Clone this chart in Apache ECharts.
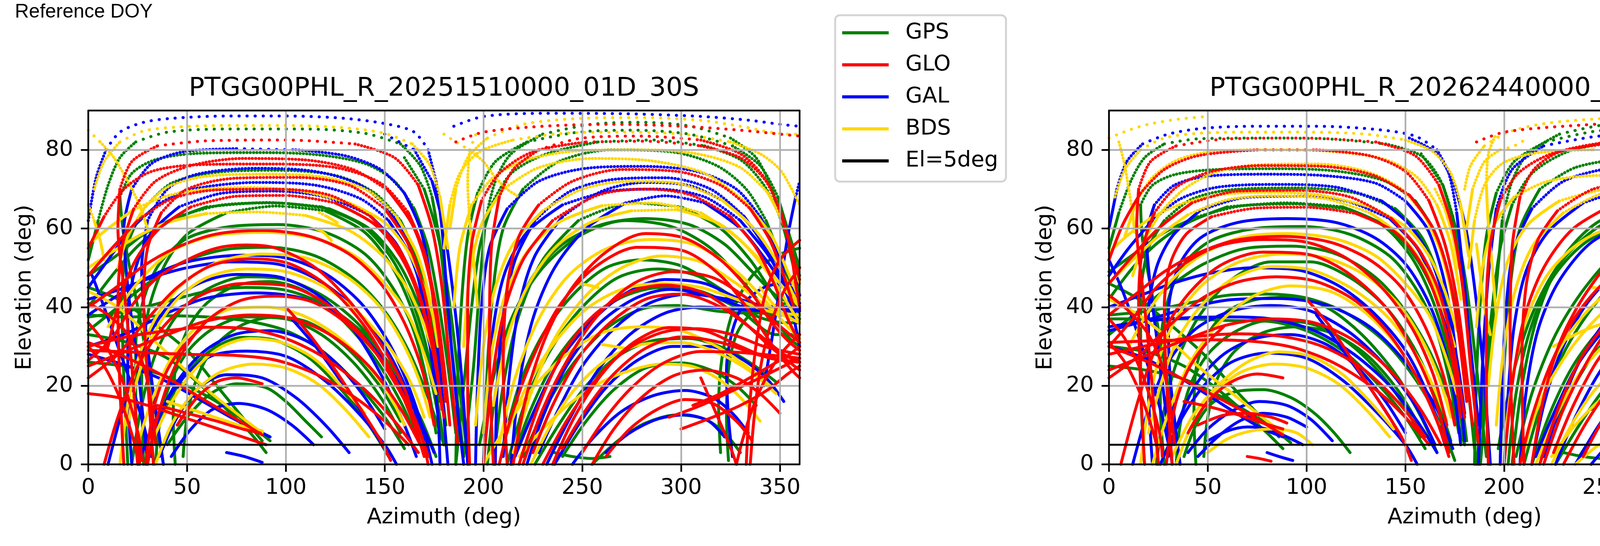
<!DOCTYPE html>
<html>
<head>
<meta charset="utf-8">
<script src="https://cdn.jsdelivr.net/npm/echarts@6/dist/echarts.min.js"></script>
<style>
html,body{margin:0;padding:0;background:#ffffff;}
#chart{width:5228px;height:1398px;}
</style>
</head>
<body>
<div id="chart"></div>
<script>
// ---------------- tick labels / titles ----------------
const xTicks = [0, 50, 100, 150, 200, 250, 300, 350];
const yTicks = [0, 20, 40, 60, 80];
const panelTitles = ['PTGG00PHL_R_20251510000_01D_30S', 'PTGG00PHL_R_20262440000_01D_30S'];
const systemNames = ['GPS', 'GLO', 'GAL', 'BDS'];
const maskName = 'El=5deg';
const maskElevation = 5;

// ---------------- left panel (DOY 2025-151): tracks of [azimuth, elevation] ----------------
const gpsLeft = [
 [[0,52],[5,62],[10,71],[16,78],[24,82],[40,84.5],[70,85.3],[110,85.3],[140,84.2],[158,81.5],[168,76],[174,68],[178,56],[182,38],[186,20],[190,2]],
 [[38,0],[32,20],[25,40],[18,58],[16,68],[22,74],[34,77.5],[55,79.1],[85,79.3],[115,78.8],[140,76.5],[155,72],[165,65],[172,55],[177,42],[182,25],[186,8]],
 [[20,0],[18,22],[17,42],[20,56],[28,65],[42,71.5],[65,74.3],[95,74.8],[125,73.5],[145,69],[158,62],[166,53],[172,42],[177,26],[181,10]],
 [[0,40],[12,48],[25,55.5],[40,61.5],[60,65.5],[90,66.6],[118,65.5],[138,61],[152,53.5],[162,44],[170,32],[176,18],[180,5]],
 [[28,0],[27,20],[30,38],[38,50],[50,58.5],[70,64],[95,65.7],[120,64.5],[140,59],[154,50],[164,39],[172,25],[178,10]],
 [[0,34],[15,40],[30,46],[48,51.5],[70,54.7],[92,55.2],[115,53],[135,47],[150,39],[162,29],[172,17],[180,5]],
 [[22,0],[27,15],[34,28],[45,38],[60,44.5],[80,47.7],[100,47],[120,42.5],[138,35],[152,25],[163,14],[170,5]],
 [[0,37.5],[20,39],[40,41.5],[60,44],[80,45],[100,44.3],[120,40.5],[140,33],[156,23],[168,12],[176,2]],
 [[0,38],[20,37.5],[40,37.8],[60,37.5],[80,36.5],[100,34],[118,29],[135,21],[150,12],[160,4]],
 [[30,2],[38,13],[48,22],[62,29],[78,32.3],[95,31.5],[112,27],[128,19],[142,10],[152,2]],
 [[40,5],[50,12],[62,18],[75,20.5],[90,19.5],[100,16],[110,11],[118,7]],
 [[0,45],[15,42],[30,37],[50,29],[65,20],[78,12],[88,6]],
 [[0,33],[20,31],[40,27],[55,21],[70,14],[82,8],[90,3]],
 [[44,0],[43,12],[44,24],[50,34],[60,41],[75,45.5],[92,46.5],[110,44],[128,37],[145,27],[158,16],[167,6]],
 [[48,2],[50,12],[55,22],[64,30],[78,35.5],[95,37.5],[112,36],[130,30],[146,21],[158,11]],
 [[26,0],[24,15],[24,30],[28,42],[36,51],[50,57.5],[72,60.5],[96,61],[120,59],[140,53.5],[154,45],[164,35],[171,22],[176,8]],
 [[0,48],[14,53],[28,58.5],[45,63],[68,66],[95,66.5],[122,65],[142,60],[156,52],[166,42],[173,30],[178,16]],
 [[34,0],[36,10],[41,20],[50,28.5],[63,34.5],[80,37.5],[100,37],[118,33],[134,26],[148,17],[158,8]],
 [[0,26],[18,25],[36,23],[52,19.5],[68,15],[82,10],[92,6]],
 [[160,78],[170,70],[177,58],[182,44],[186,28],[190,10],[192,2]],
 [[190,2],[195,25],[198,45],[201,62],[206,72],[214,79],[230,84],[255,86.5],[280,87],[305,86],[325,83],[338,78],[346,70],[352,60],[357,50],[360,43]],
 [[200,0],[202,25],[205,45],[210,60],[220,70],[238,77],[265,80],[295,79.5],[318,76],[333,70],[343,62],[350,53],[356,44],[360,38]],
 [[205,0],[210,20],[218,38],[230,52],[248,62],[275,66.5],[300,65.5],[320,60],[335,52],[347,43],[355,38],[360,37]],
 [[198,5],[205,22],[215,38],[230,50],[250,58.5],[272,62],[295,60.5],[315,55],[332,46],[345,38],[355,32],[360,30]],
 [[210,5],[218,20],[230,33],[245,43],[262,50],[280,52],[300,50.5],[318,45],[333,38],[348,33],[360,33]],
 [[212,0],[222,17],[235,30],[250,40],[268,47.5],[288,49.7],[308,48],[325,43],[338,39],[350,38],[360,38]],
 [[220,2],[232,15],[246,26],[262,34.5],[280,39.5],[298,40.4],[318,39],[335,38.5],[350,38.5],[360,38]],
 [[240,2],[252,11],[266,19],[282,24.5],[300,25.8],[315,24],[328,20],[338,15]],
 [[255,0],[268,6],[282,10.5],[298,12.6],[312,11.5],[322,8],[330,3]],
 [[324,1],[323,12],[324,24],[328,33],[335,38],[345,40],[355,41],[360,41]],
 [[320,3],[319,15],[321,28],[327,40],[336,48],[348,53],[360,55]],
 [[236,3],[245,2],[255,1.5],[264,2]],
 [[214,0],[224,14],[236,26],[252,36],[270,42.5],[290,45],[310,44],[328,40],[342,37],[354,36],[360,36]],
 [[226,0],[238,10],[252,20],[268,27.5],[286,31.5],[304,32],[322,29.5],[336,25.5],[348,21]],
 [[202,0],[206,18],[213,34],[224,47],[240,56],[260,61],[282,62.5],[304,61],[322,56],[336,49],[348,43],[360,40]],
 [[186,0],[190,20],[194,40],[198,55],[204,66],[214,74],[232,79],[258,82],[286,82.5],[312,81],[330,77.5],[342,71],[350,63],[356,54],[360,48]],
 [[186,0],[187,22],[189,42],[192,58],[197,69],[206,77],[222,82],[248,84.5],[276,85],[304,84],[326,81],[340,76],[349,68],[355,58],[360,50]]
];
const gloLeft = [
 [[26,0],[22,25],[18,45],[15,60],[16,70],[22,77],[35,81],[60,82.3],[100,82.5],[135,81.5],[155,78],[167,71],[174,60],[179,45],[183,25],[187,5]],
 [[0,55],[8,63],[18,70],[32,74.5],[55,76.2],[90,76.4],[125,75.5],[148,71.5],[162,64],[170,54],[176,40],[180,25],[183,10]],
 [[33,0],[30,22],[28,42],[30,55],[37,64],[50,70],[75,72.8],[105,73],[132,71],[150,65],[162,56],[170,44],[175,30],[179,14]],
 [[0,48],[12,55],[25,62],[42,67.5],[65,69.8],[95,70],[122,68.5],[143,63],[157,55],[167,44],[174,30],[180,12]],
 [[10,30],[16,42],[24,52],[36,60],[52,65.5],[75,68.2],[100,68.4],[125,66.5],[145,61],[158,53],[167,43],[174,30],[178,18]],
 [[0,26.5],[12,32],[23,41],[35,47.5],[50,52],[65,55],[80,55.8],[95,55],[115,50],[133,41],[150,29],[161,18],[167,6]],
 [[0,22],[15,28],[30,37],[45,45],[62,50.5],[82,52.3],[102,51],[122,45],[140,35],[155,22],[165,10],[170,2]],
 [[8,0],[15,12],[25,25],[38,35],[55,42.5],[78,46],[100,45.5],[120,41],[140,32],[156,20],[168,8],[172,0]],
 [[30,0],[35,12],[44,25],[58,35.5],[76,41.5],[95,42.8],[115,41],[135,34],[152,24],[165,12],[172,2]],
 [[0,30],[20,32.5],[40,34],[60,34.9],[80,34.5],[100,32],[120,27],[140,19],[155,11],[167,3]],
 [[0,29],[25,28.5],[50,28],[75,27.7],[95,26.5],[115,23],[135,17],[150,11],[162,5]],
 [[45,10],[55,17],[65,21],[75,22],[88,20.5]],
 [[0,31],[20,27],[40,22],[55,17.5],[70,13],[80,10],[88,7.5]],
 [[35,15],[50,13],[65,11],[78,9],[87,8]],
 [[0,18],[15,17],[30,15],[45,12.5],[60,10],[75,7.5],[90,5]],
 [[0,30],[8,25],[15,18],[20,11],[24,4],[25,0]],
 [[0,36],[8,31],[16,23],[22,14],[26,6],[27,1]],
 [[29,0],[31,8],[34,16],[40,24],[48,30],[58,35]],
 [[100,40],[112,33],[125,24],[138,14],[148,6],[153,1]],
 [[0,41],[10,38],[20,33],[28,25],[32,15],[34,5]],
 [[18,0],[16,20],[15,40],[17,55],[23,65],[34,72],[52,76],[78,77.8],[108,77.5],[134,75],[152,69.5],[164,61],[172,49],[177,34],[181,16]],
 [[0,40],[14,45],[28,50.5],[44,55],[64,58.5],[88,59.5],[112,58],[132,53.5],[148,46],[160,36],[169,24],[175,10]],
 [[0,25],[20,29],[40,33],[60,36.5],[82,38],[104,37],[124,32.5],[142,25],[157,15],[168,5]],
 [[205,0],[203,30],[204,55],[208,68],[215,75],[228,80],[250,83],[280,83.5],[310,82.5],[330,79],[342,73],[350,65],[355,56],[358,46],[360,40]],
 [[212,0],[210,25],[212,45],[218,58],[228,66],[245,72],[270,75],[298,74.5],[320,71],[335,65],[345,57],[352,48],[357,40]],
 [[200,0],[204,20],[210,38],[220,52],[235,62],[258,68.5],[282,70],[305,68.5],[325,63],[338,55],[347,46],[354,37],[360,31]],
 [[215,0],[222,18],[232,33],[245,45],[262,54],[282,58.7],[302,57.5],[320,52],[335,44],[346,36],[355,31],[360,29]],
 [[208,0],[214,12],[224,26],[238,40],[256,50],[278,55.2],[300,54.5],[320,48],[336,38],[348,29],[356,24],[360,22]],
 [[218,0],[228,15],[240,28],[256,38],[275,44],[292,45.6],[312,43.5],[330,37],[345,30],[360,24]],
 [[225,3],[235,15],[248,27],[264,36],[282,42],[300,43.3],[320,40],[337,34],[352,28],[360,26]],
 [[235,0],[246,12],[260,23],[276,31],[294,34.8],[312,34],[330,30],[345,27],[360,26]],
 [[240,4],[252,14],[266,23],[282,29.5],[300,32.4],[320,31],[338,28],[352,26.5],[360,26]],
 [[250,3],[262,12],[276,20],[292,26],[310,28.7],[328,28.5],[345,27.8],[360,27]],
 [[255,0],[266,9],[280,17],[296,22.5],[312,24],[328,22],[340,18],[350,13]],
 [[262,2],[274,9],[288,14],[302,16.5],[316,15.5],[328,11],[336,6]],
 [[294,12],[310,15],[325,18.5],[340,22],[352,25],[360,27]],
 [[306,15],[320,18],[333,21.5],[345,25],[355,28],[360,30]],
 [[333,0],[334,10],[336,22],[339,34],[343,44],[350,52],[360,57]],
 [[335,0],[337,12],[340,24],[345,35],[352,44],[360,50]],
 [[310,22],[316,15],[322,8],[326,3],[328,0]],
 [[328,0],[331,6],[336,14],[343,22],[352,29],[360,33]],
 [[186,82],[200,84.5],[230,86],[265,86.5],[300,86],[330,85],[350,84],[360,83.5]],
 [[220,0],[230,14],[243,27],[258,38],[276,46],[296,49],[316,47.5],[334,42],[348,36],[360,31]],
 [[230,0],[242,11],[256,21],[272,29],[290,33.5],[308,34.5],[326,33],[342,30],[360,28]],
 [[300,9],[316,12],[330,15],[344,19],[354,23],[360,25]],
 [[193,0],[192,20],[192,40],[194,56],[199,67],[208,74],[225,79.5],[252,82],[282,82.2],[310,81],[330,78],[343,72],[351,63],[356,54],[360,47]]
];
const galLeft = [
 [[0,62],[4,73],[9,80],[16,84.5],[28,87],[42,88],[70,88.6],[100,88.6],[130,88],[152,86.5],[165,84.5],[172,80],[176,72],[179,60],[182,40],[186,18],[190,0]],
 [[30,0],[25,25],[20,45],[18,60],[22,70],[32,76.5],[48,79.5],[75,80.3],[105,80],[130,78.5],[148,75],[160,69],[168,60],[173,48],[177,30],[180,12],[182,0]],
 [[38,0],[30,30],[27,50],[30,62],[40,70],[55,73.8],[85,75.3],[115,74.5],[138,71],[152,65],[162,56],[168,45],[173,30],[177,12],[178,0]],
 [[0,45],[10,52],[22,60],[35,66],[50,69.7],[85,71.7],[115,71],[138,67.5],[152,62],[163,53],[170,42],[176,28],[180,14]],
 [[0,38],[15,43],[30,47.5],[50,51.5],[78,53.2],[100,52.5],[120,48.5],[138,41],[152,31],[162,20],[170,8],[174,0]],
 [[10,0],[18,15],[28,30],[40,40],[55,45.8],[75,48.3],[95,47.8],[115,43.5],[133,35],[148,23],[160,10],[166,2]],
 [[0,30],[20,33.5],[40,38.5],[60,42.3],[85,43.6],[110,42],[132,36],[150,26],[165,14],[175,3]],
 [[25,0],[35,12],[48,22],[62,27.5],[80,28.8],[100,27.5],[118,22],[135,14],[150,5],[156,0]],
 [[36,2],[45,12],[56,19.5],[70,22.8],[88,22],[105,17],[120,10],[132,3]],
 [[42,2],[52,9],[63,14],[76,15.5],[90,14],[103,10],[114,5]],
 [[70,3],[79,2],[88,0.5]],
 [[0,28],[20,25],[40,21],[58,16],[72,12],[84,9],[92,7]],
 [[103,37],[115,30],[128,21],[140,12],[150,4]],
 [[2,48],[8,40],[15,30],[22,20],[28,10],[32,2]],
 [[22,0],[20,20],[20,38],[24,50],[32,59],[46,65.5],[68,69],[94,69.5],[120,68],[142,63.5],[156,56],[165,46],[172,33],[177,18]],
 [[0,42],[16,44.5],[32,47.5],[50,50],[72,51.5],[95,51],[116,47],[134,40],[150,30],[162,18],[170,6]],
 [[30,2],[36,12],[45,21],[58,28.5],[74,33],[92,34],[110,31.5],[126,25.5],[140,17],[150,9]],
 [[150,84],[165,80],[174,72],[180,60],[185,42],[189,22],[192,0]],
 [[196,0],[197,20],[199,40],[203,55],[212,65],[228,72],[252,75.3],[280,75.8],[308,74.5],[328,70],[340,63],[348,55],[354,45],[358,35],[360,30]],
 [[206,0],[207,20],[210,38],[216,52],[226,62],[244,69.5],[268,72.6],[292,72.9],[315,70],[332,63],[344,54],[352,45],[358,38],[360,36]],
 [[210,2],[213,22],[218,40],[226,53],[240,63],[260,69.5],[282,71.7],[305,70.8],[325,66],[340,58],[350,50],[356,44],[360,41]],
 [[214,0],[218,20],[225,37],[236,50],[252,60],[272,66.5],[292,68.3],[312,66.5],[330,60],[343,52],[352,46],[360,43]],
 [[222,0],[230,12],[242,25],[258,35.5],[276,42],[294,44.5],[314,43],[332,40],[346,39.5],[360,40]],
 [[228,3],[238,14],[250,25],[266,34.5],[284,41],[304,43.3],[324,42],[340,40.5],[352,40],[360,40]],
 [[232,0],[244,12],[258,24],[274,33],[292,38.5],[310,40],[328,39.5],[344,39],[360,39]],
 [[245,0],[256,7],[270,13.5],[286,17.5],[302,18.8],[316,17],[326,13],[334,8]],
 [[262,3],[274,8],[288,11.5],[302,12.6],[314,11],[322,7]],
 [[326,2],[324,12],[323,24],[326,34],[332,41],[342,45],[352,46],[360,46]],
 [[342,20],[346,32],[350,45],[354,58],[358,68],[360,72]],
 [[185,86],[200,88.5],[230,89.3],[270,89.2],[310,88.5],[335,87.5],[350,86.5],[360,86]],
 [[200,0],[202,18],[205,35],[211,49],[222,59],[240,66],[264,69.5],[288,70],[312,68],[330,62],[343,54],[352,47],[360,43]],
 [[236,0],[248,10],[262,19.5],[278,26.5],[296,30],[314,30],[330,27],[343,22],[352,16]],
 [[216,2],[226,14],[238,26],[254,36],[272,43.5],[292,47],[312,46],[330,42],[345,40],[360,39.5]]
];
const bdsLeft = [
 [[0,85],[6,82],[13,78],[20,72],[26,66],[30,60]],
 [[3,70],[8,77],[16,82],[28,84.8],[45,85.8],[70,86.2],[100,86.2],[130,85.6],[150,84.2],[164,81.5],[173,76],[178,68],[182,55]],
 [[15,50],[20,58],[28,65],[40,70.5],[60,73.3],[90,73.8],[120,73],[142,69.5],[156,63],[166,54],[172,44],[177,30]],
 [[0,50],[12,54],[25,58],[40,61.5],[60,63.8],[85,64.2],[110,63.3],[132,59.5],[148,53.5],[160,46],[168,38],[175,28]],
 [[10,35],[20,43],[32,50],[45,55],[65,58.3],[90,59],[115,57.5],[135,53],[150,46],[162,38],[170,28],[176,18]],
 [[20,10],[25,22],[33,33],[45,42],[60,47.5],[80,49.7],[100,49],[120,45],[138,38],[152,30],[163,21],[170,12]],
 [[25,5],[32,16],[42,27],[55,35],[72,39.5],[90,40],[108,38],[125,33],[140,26],[152,18],[160,10]],
 [[30,3],[40,14],[52,23],[66,29.5],[82,32],[98,31],[114,27],[128,20],[140,13]],
 [[0,44],[15,40],[30,33],[45,26],[60,19],[75,13],[88,8]],
 [[40,16],[52,14],[64,12],[76,10],[88,8.5]],
 [[0,66],[3,62],[6,57],[8,52]],
 [[115,60],[119,59],[123,57]],
 [[117,64],[121,63],[126,61.5]],
 [[0,56],[10,60],[22,64.5],[38,68],[58,70],[82,70.4],[108,69.5],[132,66.5],[150,61.5],[162,54],[170,45],[176,35]],
 [[16,0],[20,15],[26,28],[35,38],[48,46],[66,51.5],[88,53.5],[110,52.5],[130,48],[146,41],[158,32],[167,22],[173,12]],
 [[34,0],[42,10],[53,18],[67,23.5],[84,25.5],[100,24.5],[116,20.5],[130,14],[142,7]],
 [[183,60],[186,70],[192,78],[202,83],[220,86.5],[250,88],[280,88.2],[310,87.5],[330,86],[345,84.5],[355,84],[360,84]],
 [[180,55],[183,66],[188,74],[198,79.5],[215,82.5],[240,84.2],[270,84.5],[300,84],[325,82],[340,79],[350,75],[356,70],[360,66]],
 [[185,40],[188,55],[194,66],[205,73],[222,77.5],[250,79.8],[280,80],[308,79],[330,75.5],[344,69],[352,61],[357,52],[360,46]],
 [[190,30],[193,48],[199,61],[210,70],[228,75.5],[255,77.8],[285,77.2],[312,74],[332,67],[346,58],[354,49],[360,42]],
 [[200,8],[204,28],[211,43],[222,54],[238,61.5],[260,65.8],[285,66.5],[310,64],[330,57],[345,48],[355,40],[360,36]],
 [[205,15],[212,32],[222,45],[236,55],[254,61.5],[275,64.5],[298,64.8],[320,61],[338,53],[350,46],[360,40]],
 [[208,5],[216,22],[228,37],[243,48],[262,54.8],[284,57.2],[306,56],[326,50],[342,42],[354,35],[360,32]],
 [[215,3],[224,18],[236,32],[252,43],[270,50],[290,53],[310,51.5],[328,46],[344,40],[360,36]],
 [[218,2],[230,9],[245,16],[260,21],[275,24],[290,25.5],[305,25],[318,22],[330,17],[340,11]],
 [[200,0],[212,10],[226,20],[242,28],[260,33.5],[280,35],[300,34],[318,30],[333,25],[345,20]],
 [[248,46],[253,45.6],[258,45]],
 [[260,30.5],[266,30],[272,29.5]],
 [[180,84],[186,82],[193,80],[200,77],[206,73],[212,70],[218,68]],
 [[340,45],[348,40],[356,37],[360,36]],
 [[196,10],[200,30],[206,45],[215,56],[230,64.5],[250,70],[274,72],[298,71.5],[320,67.5],[336,60.5],[348,52],[356,44],[360,40]],
 [[224,0],[234,10],[246,19],[262,26.5],[280,30.5],[300,31],[318,28.5],[334,24],[348,18]],
 [[212,8],[222,20],[236,31],[252,39.5],[270,44.5],[290,46],[310,45],[328,42],[344,39],[360,38]],
 [[197,40],[195,52],[193,62],[192,72],[193,80],[197,85]]
];

// ---------------- right panel (DOY 2026-244) ----------------
const gpsRight = [
 [[0,55],[5,64],[11,72],[18,78],[28,81.5],[45,82.8],[75,83],[110,82.8],[140,81.5],[158,78.5],[168,72],[174,63],[178,50],[182,32],[186,12]],
 [[36,0],[30,20],[23,40],[17,57],[16,66],[22,71],[34,73.8],[55,75],[85,75.2],[115,74.6],[140,72],[155,67],[165,59],[172,48],[177,35],[182,18],[185,4]],
 [[18,0],[16,22],[16,42],[20,55],[28,62],[42,67.5],[65,70],[95,70.3],[125,69],[145,65],[158,58],[166,49],[172,38],[177,22],[181,6]],
 [[0,42],[12,50],[25,56.5],[40,61.5],[60,65.5],[90,66.5],[118,65.5],[138,61],[152,53.5],[162,44],[170,32],[176,18],[180,5]],
 [[0,33],[15,39],[30,45],[48,51],[70,55],[92,55.5],[115,53.5],[135,47.5],[150,39],[162,29],[172,17],[180,5]],
 [[24,0],[28,14],[35,27],[46,38],[62,47],[82,51.5],[102,51.5],[122,47.5],[140,40],[154,30],[165,18],[173,6]],
 [[0,38],[20,39],[40,41],[60,43],[80,43.3],[100,42.3],[120,38.5],[140,31],[156,21],[168,10],[175,1]],
 [[0,37],[20,37],[40,37],[60,36.6],[80,36.4],[100,34],[118,29],[135,21],[150,12],[160,4]],
 [[44,0],[43,12],[44,24],[50,33],[60,39],[75,42],[92,42.5],[110,40],[128,33],[145,23],[158,12],[166,3]],
 [[38,2],[44,10],[52,15.5],[64,18.5],[78,19],[92,17],[104,13],[114,8],[122,3]],
 [[0,46],[15,42],[30,36],[48,28],[62,20],[75,13],[86,7]],
 [[0,30],[20,28.5],[38,25],[54,19.5],[68,13.5],[80,8],[88,4]],
 [[48,2],[50,12],[55,22],[64,29],[78,33.5],[95,35],[112,33.5],[130,28],[146,19],[158,9]],
 [[28,0],[26,15],[26,30],[30,42],[38,51],[52,57],[74,60],[98,60.5],[122,58.5],[142,53],[155,45],[165,35],[172,22],[177,8]],
 [[0,49],[14,54],[28,59],[45,63],[68,65.8],[95,66.2],[122,64.8],[142,60],[156,52],[166,42],[173,30],[178,16]],
 [[34,0],[36,10],[41,20],[50,28],[63,33.5],[80,36.5],[100,36],[118,32],[134,25],[148,16],[158,7]],
 [[0,25],[18,24],[36,22],[52,18.5],[68,14],[82,9.5],[92,5.5]],
 [[158,79],[169,71],[176,59],[181,45],[185,29],[189,11],[191,2]],
 [[188,0],[192,25],[196,45],[199,62],[204,72],[212,79],[228,84],[252,86.5],[278,87.2],[302,86.5],[322,84],[336,79],[345,71],[351,62],[356,52],[360,45]],
 [[198,0],[200,25],[203,45],[208,60],[218,70],[236,75.5],[262,77.6],[290,77.8],[315,75],[331,69],[342,61],[350,52],[356,44],[360,39]],
 [[204,0],[209,20],[217,38],[229,52],[247,61.5],[273,66.3],[298,66.5],[318,62],[334,54],[346,45],[355,39],[360,37]],
 [[197,4],[204,22],[214,38],[228,51],[248,60.5],[272,64.8],[295,64],[316,58],[332,49],[345,40],[355,34],[360,31]],
 [[206,2],[214,18],[226,33],[241,45],[258,54],[278,57],[300,56],[318,51],[333,43],[347,36],[360,34]],
 [[210,0],[220,17],[233,31],[248,42],[266,50.5],[286,55],[306,53.5],[324,47],[338,41],[350,39],[360,38.5]],
 [[218,2],[230,15],[244,27],[260,36],[278,42],[296,44.5],[316,43],[334,40.5],[350,39.5],[360,39]],
 [[238,2],[250,11],[264,19.5],[280,25],[298,26.5],[314,25],[327,21],[338,16]],
 [[252,0],[266,6],[280,10.5],[296,12.5],[310,11.5],[320,8],[328,3]],
 [[324,1],[323,12],[324,24],[328,33],[335,38],[345,40.5],[355,41],[360,41]],
 [[320,3],[319,15],[321,28],[327,40],[336,48],[348,53],[360,55]],
 [[244,14],[258,20],[274,24],[290,25.5],[304,24],[318,20]],
 [[230,3],[240,2],[250,1.5],[258,2]],
 [[214,0],[224,14],[236,26],[252,36],[270,42],[290,44.5],[310,43.5],[328,40],[342,37.5],[354,36.5],[360,36]],
 [[226,0],[238,10],[252,20],[268,27],[286,31],[304,31.5],[322,29],[336,25],[348,20.5]],
 [[202,0],[206,18],[213,34],[224,47],[240,56],[260,61],[282,62],[304,60.5],[322,55.5],[336,48.5],[348,43],[360,40]],
 [[186,0],[190,20],[194,40],[198,55],[204,66],[214,74],[232,79.5],[258,82.5],[286,83],[312,81.5],[330,78],[342,71],[350,63],[356,54],[360,48]],
 [[185,0],[186,22],[188,42],[191,58],[196,69],[205,77],[221,82],[247,84.8],[275,85.3],[303,84.5],[325,81.5],[339,76.5],[348,68],[354,58],[360,49]]
];
const gloRight = [
 [[25,0],[21,25],[17,45],[14,60],[15,70],[21,77],[34,81],[60,82.8],[100,83],[135,82],[155,78.5],[167,71],[174,60],[179,45],[183,25],[187,5]],
 [[0,52],[7,61],[16,69],[28,75],[45,78.5],[75,80],[105,80],[132,78.5],[150,74.5],[162,67],[170,56],[176,42],[180,27],[184,10]],
 [[0,46],[12,53],[25,60],[42,66.5],[65,69.5],[95,69.7],[122,68],[143,62.5],[157,54.5],[167,44],[174,30],[180,12]],
 [[32,0],[29,22],[28,40],[31,51],[39,58.5],[52,63],[75,65.2],[100,65.4],[125,63.8],[145,59],[158,51],[167,40],[174,26],[178,12]],
 [[0,30],[12,37],[24,45],[38,51],[55,55.5],[78,57.2],[100,56.5],[120,52.5],[138,45],[153,35],[164,23],[171,10]],
 [[6,0],[14,15],[24,30],[38,42],[56,50.5],[78,54],[100,53.5],[120,49],[140,40],[155,28],[166,15],[172,3]],
 [[0,22],[16,28],[32,36],[48,42.5],[66,46.5],[85,47.7],[105,46.5],[125,41.5],[142,33],[156,22],[166,11],[172,2]],
 [[0,28],[22,30.5],[44,32.5],[66,33.2],[88,32.5],[108,30],[128,24.5],[146,16],[160,7]],
 [[0,31],[25,31.5],[50,31.7],[75,31.2],[95,29.5],[115,25.5],[135,19],[150,12],[162,5]],
 [[40,8],[50,16],[62,21],[75,23],[88,22]],
 [[0,30],[20,26],[40,21],[55,17],[70,13],[80,10],[88,7.5]],
 [[38,16],[52,14.5],[66,12.5],[78,10.5],[88,9]],
 [[45,10],[58,12.5],[70,13],[82,12],[90,10.5]],
 [[0,31],[8,26],[15,19],[20,12],[24,5],[25,0]],
 [[0,37],[8,32],[16,24],[22,15],[26,7],[27,2]],
 [[29,0],[31,8],[34,16],[40,24],[48,30],[58,35]],
 [[100,42],[112,35],[125,25],[138,15],[148,7],[153,1]],
 [[0,43],[10,39],[20,33],[27,25],[31,15],[33,5]],
 [[70,2],[76,1.5],[82,0.8]],
 [[18,0],[16,20],[15,40],[17,55],[23,64],[34,70.5],[52,74.5],[78,76],[108,75.8],[134,73.5],[152,68.5],[164,60],[172,48],[177,33],[181,16]],
 [[0,38],[14,43.5],[28,49],[44,53.5],[64,57],[88,58],[112,56.5],[132,52],[148,45],[160,35],[169,23],[175,10]],
 [[0,24],[20,28],[40,32],[60,35.5],[82,37],[104,36],[124,31.5],[142,24],[157,14.5],[168,5]],
 [[205,0],[203,30],[204,55],[208,68],[215,75],[228,79.5],[250,81.8],[280,82.2],[310,81.5],[330,78.5],[342,73],[350,65],[355,56],[358,46],[360,40]],
 [[210,0],[209,25],[211,45],[217,57],[227,64.5],[245,70],[270,72],[298,71.5],[320,68],[335,62],[345,54],[352,46],[357,38]],
 [[200,0],[204,20],[210,37],[220,50],[235,60],[258,66.8],[282,68.3],[305,67],[325,61.5],[338,54],[347,45],[354,36],[360,30]],
 [[214,0],[220,17],[229,32],[242,44],[260,55],[282,61],[302,60.5],[320,55],[335,47],[346,38],[355,32],[360,30]],
 [[208,0],[214,12],[224,26],[238,39],[256,48.5],[278,52.6],[300,52],[320,46],[336,37],[348,29],[356,24],[360,22]],
 [[218,0],[228,15],[240,28],[256,38],[275,44.3],[292,45.7],[312,43.5],[330,37],[345,30],[360,24]],
 [[225,3],[235,15],[248,27],[264,36],[282,42],[300,43.3],[320,40],[337,34],[352,28],[360,26]],
 [[240,2],[252,13],[266,22],[282,28.5],[300,31.2],[320,30.5],[338,28],[352,26.5],[360,26]],
 [[252,0],[264,9],[278,17],[294,22.5],[310,24],[326,22.5],[338,18.5],[348,13]],
 [[262,2],[274,9],[288,14],[302,16.5],[316,15.5],[328,11],[336,6]],
 [[296,13],[312,16],[326,19],[340,22.5],[352,25.5],[360,27.5]],
 [[308,16],[322,19],[334,22],[346,25.5],[355,28.5],[360,30.5]],
 [[285,31],[300,30],[315,28.5],[330,27.5],[345,27],[360,26.5]],
 [[333,0],[334,10],[336,22],[339,34],[343,44],[350,52],[360,57]],
 [[335,0],[337,12],[340,24],[345,35],[352,44],[360,50]],
 [[310,22],[316,15],[322,8],[326,3],[328,0]],
 [[328,0],[331,6],[336,14],[343,22],[352,29],[360,33]],
 [[250,1],[255,2.5],[262,4]],
 [[186,82],[200,84.5],[230,86],[265,86.8],[300,86.3],[330,85.2],[350,84],[360,83.5]],
 [[220,0],[230,14],[243,27],[258,38],[276,46],[296,49.2],[316,47.5],[334,42],[348,36],[360,31]],
 [[230,0],[242,11],[256,21],[272,29],[290,33.5],[308,34.5],[326,33],[342,30],[360,28]],
 [[300,9],[316,12],[330,15],[344,19],[354,23],[360,25]],
 [[192,0],[191,20],[191,40],[193,56],[198,67],[207,74],[224,79],[251,81.5],[281,81.8],[309,80.6],[329,77.6],[342,71.5],[350,63],[356,54],[360,47]]
];
const galRight = [
 [[0,60],[4,70],[9,77],[17,81.5],[30,84],[48,85.5],[75,86],[105,86],[135,85.2],[155,83.5],[166,80],[172,74],[176,64],[179,50],[183,30],[187,10]],
 [[32,0],[26,25],[21,45],[19,58],[23,66],[33,71],[50,73.3],[80,73.8],[110,73.4],[135,71.5],[150,67],[161,60],[168,50],[173,38],[177,22],[180,6]],
 [[0,48],[10,55],[22,62],[36,67.5],[55,70.5],[85,71.2],[115,70.5],[138,67],[152,61],[163,52],[170,41],[176,27],[180,13]],
 [[36,0],[31,22],[30,38],[35,50],[46,57.5],[65,61.5],[90,62.5],[115,61.5],[135,57.5],[150,51],[161,42],[169,31],[175,17],[178,5]],
 [[0,34],[18,36.5],[38,39.5],[60,41.8],[85,42.2],[110,40.5],[132,35],[150,26],[165,15],[174,4]],
 [[12,0],[20,14],[30,26],[44,34.5],[62,39],[82,40.4],[102,39],[122,33.5],[140,25],[155,15],[165,5]],
 [[0,35],[20,36.5],[40,37.3],[60,37.5],[82,37],[104,34],[124,28],[142,20],[156,11],[166,3]],
 [[26,0],[36,11],[48,20],[62,26],[80,28.3],[100,27],[118,21.5],[135,13.5],[150,5],[156,0]],
 [[40,3],[50,9],[62,13.5],[76,16],[90,15],[102,11.5],[113,6]],
 [[45,2],[55,7],[66,11],[78,13],[90,12],[100,9.5]],
 [[50,6],[60,8.5],[70,9.5],[80,9],[90,7],[98,5]],
 [[80,3],[86,2],[93,1]],
 [[0,30],[18,27],[36,22],[52,17],[66,12.5],[78,9],[88,7]],
 [[105,38],[117,30],[130,21],[142,12],[151,4]],
 [[0,52],[7,44],[14,34],[21,23],[27,12],[31,3]],
 [[22,0],[20,20],[20,38],[24,50],[32,58],[46,64.5],[68,67.8],[94,68.2],[120,67],[142,62.5],[156,55],[165,45],[172,32],[177,17]],
 [[0,40],[16,43],[32,46],[50,48.5],[72,50],[95,49.5],[116,45.5],[134,38.5],[150,29],[162,17],[170,5]],
 [[30,2],[36,12],[45,21],[58,28],[74,32],[92,33],[110,30.5],[126,24.5],[140,16],[150,8]],
 [[152,83],[166,79],[175,71],[181,59],[186,41],[190,21],[193,0]],
 [[187,0],[189,25],[192,48],[196,65],[204,75],[220,81],[248,83.5],[280,84],[310,83.5],[332,81],[345,76],[352,68],[356,58],[359,48],[360,44]],
 [[198,0],[199,20],[201,40],[205,55],[214,65],[230,72],[254,75.3],[280,75.8],[306,74.5],[326,70],[339,63],[347,55],[353,46],[358,36],[360,32]],
 [[208,0],[211,18],[217,34],[227,46],[243,56],[264,62],[288,63.3],[312,61],[330,55],[343,48],[353,43],[360,41]],
 [[214,0],[220,15],[229,29],[242,41],[260,50],[282,53.8],[304,52.5],[323,47],[338,42],[350,40],[360,40]],
 [[220,2],[228,14],[239,27],[254,38],[272,46],[292,49.7],[312,48.5],[330,44],[345,41],[360,40]],
 [[226,0],[236,12],[249,24],[265,34],[283,41],[302,44.5],[322,43.5],[340,41],[352,40],[360,40]],
 [[244,0],[256,7],[270,14],[286,18.8],[302,20.6],[316,19],[327,14.5],[336,9]],
 [[258,3],[270,9],[284,14],[298,16.5],[312,15.5],[322,11],[330,6]],
 [[250,11],[262,14],[276,17],[290,19],[304,20],[316,19.5]],
 [[326,1],[324,12],[323,24],[326,34],[332,41],[342,45],[352,46],[360,46]],
 [[342,25],[346,38],[350,50],[354,62],[357,71],[360,76]],
 [[200,0],[202,18],[205,35],[211,49],[222,59],[240,66.5],[264,70],[288,70.5],[312,68.5],[330,62.5],[343,54],[352,47],[360,43]],
 [[236,0],[248,10],[262,19.5],[278,26.5],[296,30],[314,30],[330,27],[343,22],[352,16]],
 [[216,2],[226,14],[238,26],[254,36],[272,43.5],[292,47],[312,46],[330,42],[345,40],[360,39.5]]
];
const bdsRight = [
 [[0,83],[10,85],[20,86.5],[35,87.8],[50,88.5]],
 [[5,82],[8,76],[10,70],[12,64],[13,59]],
 [[3,68],[8,75],[16,80],[28,83],[45,84.2],[70,84.5],[100,84.5],[130,84],[150,82.5],[164,79.5],[173,74],[178,66],[182,53]],
 [[8,58],[14,67],[22,73],[35,77.5],[55,79.7],[85,80],[115,79.5],[140,77.5],[156,73],[166,66],[173,56],[178,42]],
 [[12,48],[18,57],[26,64],[38,70],[55,74.5],[80,76.3],[105,76.4],[130,74.5],[148,70],[160,63],[168,54],[174,42]],
 [[0,46],[12,52],[25,58],[40,63.5],[60,67.3],[85,68.3],[110,67.5],[132,64],[148,58],[160,50],[168,41],[175,30]],
 [[10,30],[20,39],[32,47],[46,53],[66,57.6],[90,58.7],[115,57.3],[135,53],[150,46],[162,38],[170,28],[176,18]],
 [[20,8],[26,20],[34,31],[46,40],[62,47],[82,50.3],[102,49.5],[122,45],[140,38],[154,29],[164,20],[171,11]],
 [[22,0],[30,13],[40,25],[54,35],[72,42.5],[92,45.4],[112,44],[130,38.5],[146,30],[158,20],[167,10]],
 [[32,2],[42,12],[55,20],[70,26],[86,28.6],[102,27.5],[118,23],[132,16],[144,9]],
 [[50,3],[60,6.5],[72,8.5],[84,9],[95,8],[103,5]],
 [[0,42],[15,38],[30,32],[45,25],[60,19],[75,13],[88,8]],
 [[165,70],[170,65],[174,58],[177,50]],
 [[0,54],[10,58.5],[22,63],[38,66.5],[58,68.7],[82,69.2],[108,68.4],[132,65.5],[150,60.5],[162,53],[170,44],[176,34]],
 [[16,0],[20,15],[26,28],[35,38],[48,46],[66,51.5],[88,53.5],[110,52.5],[130,48],[146,41],[158,32],[167,22],[173,12]],
 [[34,0],[42,10],[53,18],[67,23.5],[84,25.5],[100,24.5],[116,20.5],[130,14],[142,7]],
 [[180,70],[183,76],[190,81],[202,84.5],[222,86.8],[252,88],[282,88.3],[312,87.8],[332,86.8],[346,85.5],[355,84.5],[360,84]],
 [[182,50],[185,62],[190,71],[199,76.5],[216,79.2],[245,80],[275,80],[305,79.5],[328,77.5],[342,73],[351,67],[356,60],[360,54]],
 [[186,35],[189,50],[195,61],[205,68],[222,72],[250,73.5],[280,73.5],[308,72.3],[330,68],[344,61],[352,52],[357,44],[360,40]],
 [[192,20],[196,38],[202,52],[212,61],[228,67],[252,70],[280,70.3],[306,68.5],[328,62.5],[342,55],[352,47],[360,41]],
 [[200,5],[205,24],[212,38],[223,49],[240,57],[262,61.3],[286,61.9],[310,59.5],[330,53],[345,45],[355,38],[360,35]],
 [[210,3],[218,18],[230,31],[246,41],[265,47.5],[286,49.7],[308,48.5],[328,44],[344,39.5],[360,37]],
 [[216,0],[226,12],[238,23],[254,32],[272,38],[292,39.9],[312,39],[330,37],[346,36],[360,36]],
 [[224,2],[236,10],[250,17],[266,22.5],[284,25.3],[300,25.8],[316,24.5],[330,21],[342,16]],
 [[236,0],[248,5],[262,9],[278,11.3],[294,11.8],[308,10.5],[320,7],[328,3]],
 [[225,30],[240,34],[258,37],[276,39],[296,40],[316,39],[334,37],[348,35],[360,34]],
 [[181,60],[184,70],[190,77],[198,80],[205,81],[212,83]],
 [[186,56],[188,48],[190,40],[193,33]],
 [[245,45],[250,44.6],[255,44]],
 [[340,44],[348,40],[356,37],[360,36]],
 [[350,60],[354,68],[357,74],[360,78]],
 [[196,10],[200,30],[206,45],[215,56],[230,64],[250,69],[274,71],[298,70.5],[320,66.5],[336,60],[348,52],[356,44],[360,40]],
 [[224,0],[234,10],[246,19],[262,26.5],[280,30.5],[300,31],[318,28.5],[334,24],[348,18]],
 [[212,8],[222,20],[236,31],[252,39.5],[270,44.5],[290,46],[310,45],[328,42],[344,39],[360,38]],
 [[196,38],[194,50],[192,61],[191,71],[192,79],[196,84]]
];

// ---------------- styling ----------------
const sysColors = {GPS:'#008000', GLO:'#ff0000', GAL:'#0000ff', BDS:'#ffd700'};
const panelTracks = [
  {GPS: gpsLeft, GLO: gloLeft, GAL: galLeft, BDS: bdsLeft},
  {GPS: gpsRight, GLO: gloRight, GAL: galRight, BDS: bdsRight}
];
const drawOrder = ['GPS', 'GAL', 'BDS', 'GLO'];
const FONT = 'DejaVu Sans';
const gridL = [226, 2839];
const gridTop = 283, gridW = 1821, gridH = 906;

function bandOf(p, q) {
  const m = Math.min(p[1], q[1]);
  return m >= 80 ? 2 : (m >= 62 ? 1 : 0);
}
function splitRuns(track) {
  const out = [];
  if (track.length < 2) return out;
  let bd = bandOf(track[0], track[1]);
  let cur = [track[0], track[1]];
  for (let i = 2; i < track.length; i++) {
    const b = bandOf(track[i - 1], track[i]);
    if (b === bd) { cur.push(track[i]); }
    else { out.push({band: bd, pts: cur}); cur = [track[i - 1], track[i]]; bd = b; }
  }
  out.push({band: bd, pts: cur});
  return out;
}

const series = [];
systemNames.forEach(n => {
  series.push({type:'line', name:n, data:[], color:sysColors[n], xAxisIndex:0, yAxisIndex:0, showSymbol:false,
    lineStyle:{color:sysColors[n], width:8}});
});
for (let p = 0; p < 2; p++) {
  drawOrder.forEach(n => {
    const col = sysColors[n];
    panelTracks[p][n].forEach(tr => {
      splitRuns(tr).forEach(r => {
        series.push({
          type:'line', name:n, xAxisIndex:p, yAxisIndex:p, data:r.pts,
          smooth:0.3, showSymbol:false, symbol:'none', silent:true, color:col, z:2,
          lineStyle: r.band === 0 ? {color:col, width:7.5, type:'solid', cap:'round'}
                   : (r.band === 1 ? {color:col, width:7.5, type:[0.5, 8], cap:'round'}
                                   : {color:col, width:7.5, type:[0.5, 20], cap:'round'})
        });
      });
    });
  });
  series.push({type:'line', name:maskName, xAxisIndex:p, yAxisIndex:p, data:[[0, maskElevation],[360, maskElevation]],
    showSymbol:false, symbol:'none', silent:true, color:'#000', z:4, lineStyle:{color:'#000', width:5}});
}

const axisTextStyle = {fontFamily:FONT, fontSize:55.6, color:'#000'};
const xAxes = [], yAxes = [];
for (let p = 0; p < 2; p++) {
  xAxes.push({gridIndex:p, type:'value', min:0, max:360, interval:50, position:'bottom', z:3,
    axisLine:{show:true, onZero:false, lineStyle:{color:'#000', width:4.4}},
    axisTick:{show:true, inside:false, length:19, customValues:xTicks, lineStyle:{color:'#000', width:4.4}},
    axisLabel:{show:true, margin:33, customValues:xTicks, ...axisTextStyle},
    splitLine:{show:true, lineStyle:{color:'#b0b0b0', width:4.4}},
    name:'Azimuth (deg)', nameLocation:'middle', nameGap:109, nameTextStyle:{...axisTextStyle}});
  yAxes.push({gridIndex:p, type:'value', min:0, max:90, interval:20, position:'left', z:3,
    axisLine:{show:true, onZero:false, lineStyle:{color:'#000', width:4.4}},
    axisTick:{show:true, inside:false, length:19, customValues:yTicks, lineStyle:{color:'#000', width:4.4}},
    axisLabel:{show:true, margin:39, customValues:yTicks, ...axisTextStyle},
    splitLine:{show:true, lineStyle:{color:'#b0b0b0', width:4.4}},
    name:'Elevation (deg)', nameLocation:'middle', nameRotate:90, nameGap:134, nameTextStyle:{...axisTextStyle}});
}
for (let p = 0; p < 2; p++) {
  xAxes.push({gridIndex:p, type:'value', min:0, max:360, position:'top', z:5,
    axisLine:{show:true, onZero:false, lineStyle:{color:'#000', width:4.4}},
    axisTick:{show:false}, axisLabel:{show:false}, splitLine:{show:false}});
  yAxes.push({gridIndex:p, type:'value', min:0, max:90, position:'right', z:5,
    axisLine:{show:true, onZero:false, lineStyle:{color:'#000', width:4.4}},
    axisTick:{show:false}, axisLabel:{show:false}, splitLine:{show:false}});
}

const legendNames = systemNames.concat([maskName]);
const legends = [2138, 4751].map(lx => ({
  left: lx, top: 39, orient:'vertical', icon:'rect', itemWidth:119, itemHeight:8, itemGap:18,
  padding:[13, 20, 21, 18], backgroundColor:'#ffffff', borderColor:'#d4d4d4', borderWidth:5, borderRadius:12,
  selectedMode:false, data: legendNames,
  textStyle:{fontFamily:FONT, fontSize:55.6, color:'#000', lineHeight:64, padding:[0,0,0,38]}
}));

const option = {
  backgroundColor:'#ffffff',
  animation:false,
  title: [
    {text:'Reference DOY', left:38, top:6, padding:0, textStyle:{fontFamily:'Liberation Sans', fontSize:50, fontWeight:'normal', color:'#000'}},
    {text:panelTitles[0], left:1136.5, top:194, padding:0, textAlign:'center', textStyle:{fontFamily:FONT, fontSize:66.7, fontWeight:'normal', color:'#000'}},
    {text:panelTitles[1], left:3749.5, top:194, padding:0, textAlign:'center', textStyle:{fontFamily:FONT, fontSize:66.7, fontWeight:'normal', color:'#000'}}
  ],
  legend: legends,
  grid: gridL.map(l => ({left:l, top:gridTop, width:gridW, height:gridH, containLabel:false, show:false})),
  xAxis: xAxes,
  yAxis: yAxes,
  series: series
};

const chart = echarts.init(document.getElementById('chart'), null, {renderer:'canvas', width:5228, height:1398});
chart.setOption(option);
</script>
</body>
</html>
